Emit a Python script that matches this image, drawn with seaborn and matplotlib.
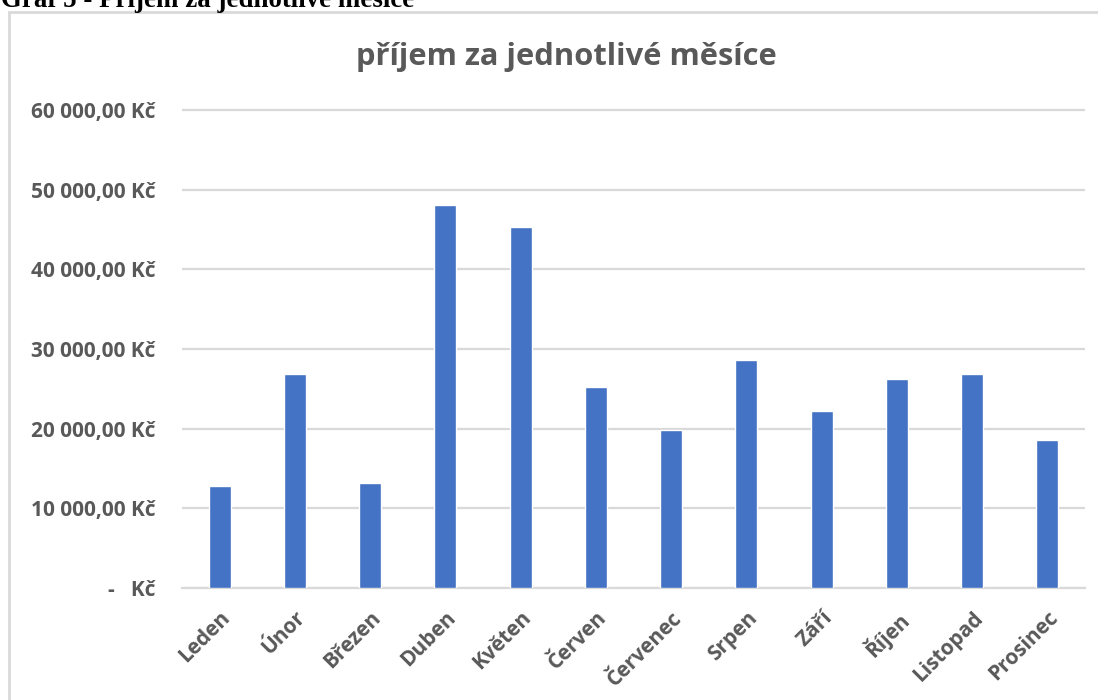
import matplotlib
matplotlib.use("Agg")
import matplotlib.pyplot as plt
import matplotlib.ticker as mticker
from matplotlib.patches import Rectangle
import seaborn as sns
import pandas as pd

# Monthly income data
months = ["Leden", "Únor", "Březen", "Duben", "Květen", "Červen",
          "Červenec", "Srpen", "Září", "Říjen", "Listopad", "Prosinec"]
income = [12800, 26850, 13150, 48050, 45250, 25200,
          19800, 28600, 22200, 26200, 26850, 18550]
y_ticks = [0, 10000, 20000, 30000, 40000, 50000, 60000]

df = pd.DataFrame({"month": months, "income": income})

sns.set_theme(style="white")
plt.rcParams["font.family"] = ["Open Sans", "DejaVu Sans"]

TEXT = "#595959"
GRID = "#d9d9d9"
BAR = "#4472C4"

fig = plt.figure(figsize=(10.98, 7.00), dpi=100)
ax = fig.add_axes([182 / 1098, 1 - 588 / 700, (1085 - 182) / 1098, 486 / 700])

sns.barplot(data=df, x="month", y="income", color=BAR, width=0.29,
            saturation=1, ax=ax, zorder=3)

ax.set_ylim(0, 61000)
ax.set_xlim(-0.5, len(months) - 0.5)
ax.set_yticks(y_ticks)


def kc(v, pos=None):
    if v == 0:
        return "-   Kč"
    return f"{int(v):,}".replace(",", " ") + ",00 Kč"


ax.yaxis.set_major_formatter(mticker.FuncFormatter(kc))
ax.yaxis.grid(True, color=GRID, linewidth=1.6, zorder=0)
ax.set_axisbelow(True)
for s in ["top", "right", "left"]:
    ax.spines[s].set_visible(False)
ax.spines["bottom"].set_color(GRID)
ax.spines["bottom"].set_linewidth(1.6)

ax.tick_params(axis="y", length=0, pad=19, labelsize=15, labelcolor=TEXT)
ax.tick_params(axis="x", length=0, pad=14, labelsize=15, labelcolor=TEXT)
for lab in ax.get_yticklabels():
    lab.set_fontweight("bold")
ax.set_xticks(range(len(months)))
ax.set_xticklabels(months, rotation=45, ha="right", va="top",
                   rotation_mode="anchor", fontweight="bold")
ax.set_xlabel("")
ax.set_ylabel("")

fig.text(566 / 1098, 1 - 57 / 700, "příjem za jednotlivé měsíce",
         ha="center", va="center", fontsize=22.2, fontweight="bold", color=TEXT)

# chart frame
fig.patches.append(Rectangle((9 / 1098, -0.1), 1.2, 1.1 - 12 / 700,
                             transform=fig.transFigure, fill=False,
                             edgecolor=GRID, linewidth=2))

# document caption above the chart
fig.text(0.001, 1 - 7 / 700, "Graf 5 - Příjem za jednotlivé měsíce",
         ha="left", va="baseline", fontsize=19.4, fontweight="bold",
         family=["Liberation Serif"], color="black")

fig.savefig("out.png", dpi=100, facecolor="white")
